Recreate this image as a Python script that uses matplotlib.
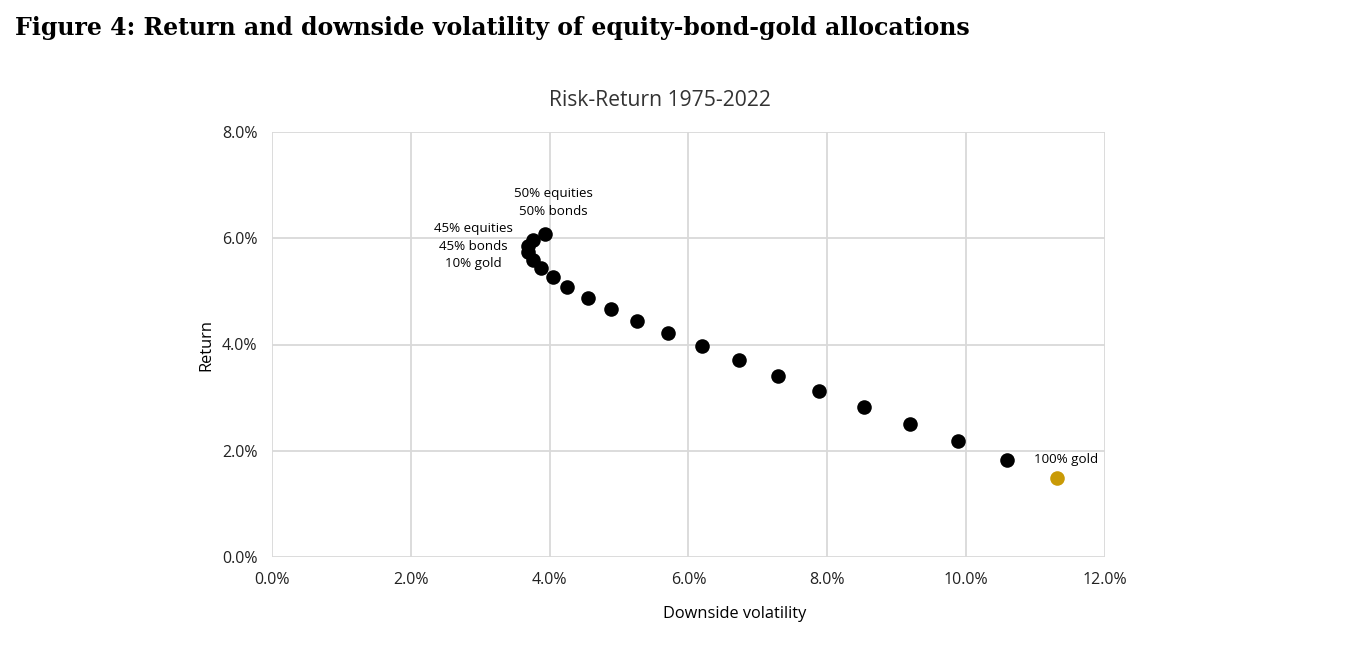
import matplotlib
matplotlib.use("Agg")
import matplotlib.pyplot as plt
from matplotlib.ticker import FuncFormatter

# Downside volatility (%) and return (%) of allocations, 50/50 equity-bond moving to 100% gold
downside_vol = [3.93, 3.76, 3.69, 3.69, 3.76, 3.87, 4.05, 4.25, 4.55, 4.88,
                5.26, 5.70, 6.19, 6.73, 7.29, 7.88, 8.53, 9.19, 9.88, 10.59]
returns = [6.08, 5.97, 5.85, 5.74, 5.59, 5.44, 5.27, 5.08, 4.88, 4.67,
           4.44, 4.22, 3.97, 3.71, 3.41, 3.12, 2.82, 2.50, 2.18, 1.83]
gold_vol = [11.31]
gold_ret = [1.49]

x_ticks = [0, 2, 4, 6, 8, 10, 12]
y_ticks = [0, 2, 4, 6, 8]

FONT = ["Open Sans", "DejaVu Sans"]
W, H = 1367, 650
fig = plt.figure(figsize=(W / 100, H / 100), dpi=100)
ax = fig.add_axes([272 / W, 1 - 557 / H, (1105 - 272) / W, (557 - 132) / H])

ax.scatter(downside_vol, returns, s=110, color="black", zorder=3, linewidths=0)
ax.scatter(gold_vol, gold_ret, s=110, color="#C99A06", zorder=3, linewidths=0)

ax.set_xlim(0, 12)
ax.set_ylim(0, 8)
ax.set_xticks(x_ticks)
ax.set_yticks(y_ticks)
fmt = FuncFormatter(lambda v, p: f"{v:.1f}%")
ax.xaxis.set_major_formatter(fmt)
ax.yaxis.set_major_formatter(fmt)
for s in ax.spines.values():
    s.set_visible(False)
ax.grid(True, color="#d9d9d9", linewidth=1.3)
ax.set_axisbelow(True)
ax.tick_params(length=0, labelsize=11.5, colors="#222222", pad=10.5)
for lab in ax.get_xticklabels() + ax.get_yticklabels():
    lab.set_family(FONT)

ax.text(4.05, 6.67, "50% equities\n50% bonds", ha="center", va="center",
        fontsize=9.6, family=FONT, linespacing=1.45)
ax.text(2.90, 5.85, "45% equities\n45% bonds\n10% gold", ha="center", va="center",
        fontsize=9.6, family=FONT, linespacing=1.45)
ax.text(11.44, 1.84, "100% gold", ha="center", va="center", fontsize=9.6, family=FONT)

fig.text(660 / W, 1 - 100 / H, "Risk-Return 1975-2022", ha="center", va="center",
         fontsize=15.2, family=FONT, color="#333333")
fig.text(735 / W, 1 - 614 / H, "Downside volatility", ha="center", va="center",
         fontsize=11.8, family=FONT)
fig.text(206 / W, 1 - 345 / H, "Return", ha="center", va="center", rotation=90,
         fontsize=11.8, family=FONT)
fig.text(15 / W, 1 - 28 / H, "Figure 4: Return and downside volatility of equity-bond-gold allocations",
         ha="left", va="center", fontsize=17, family=["DejaVu Serif"],
         fontweight="bold")

fig.savefig("out.png", dpi=100)
